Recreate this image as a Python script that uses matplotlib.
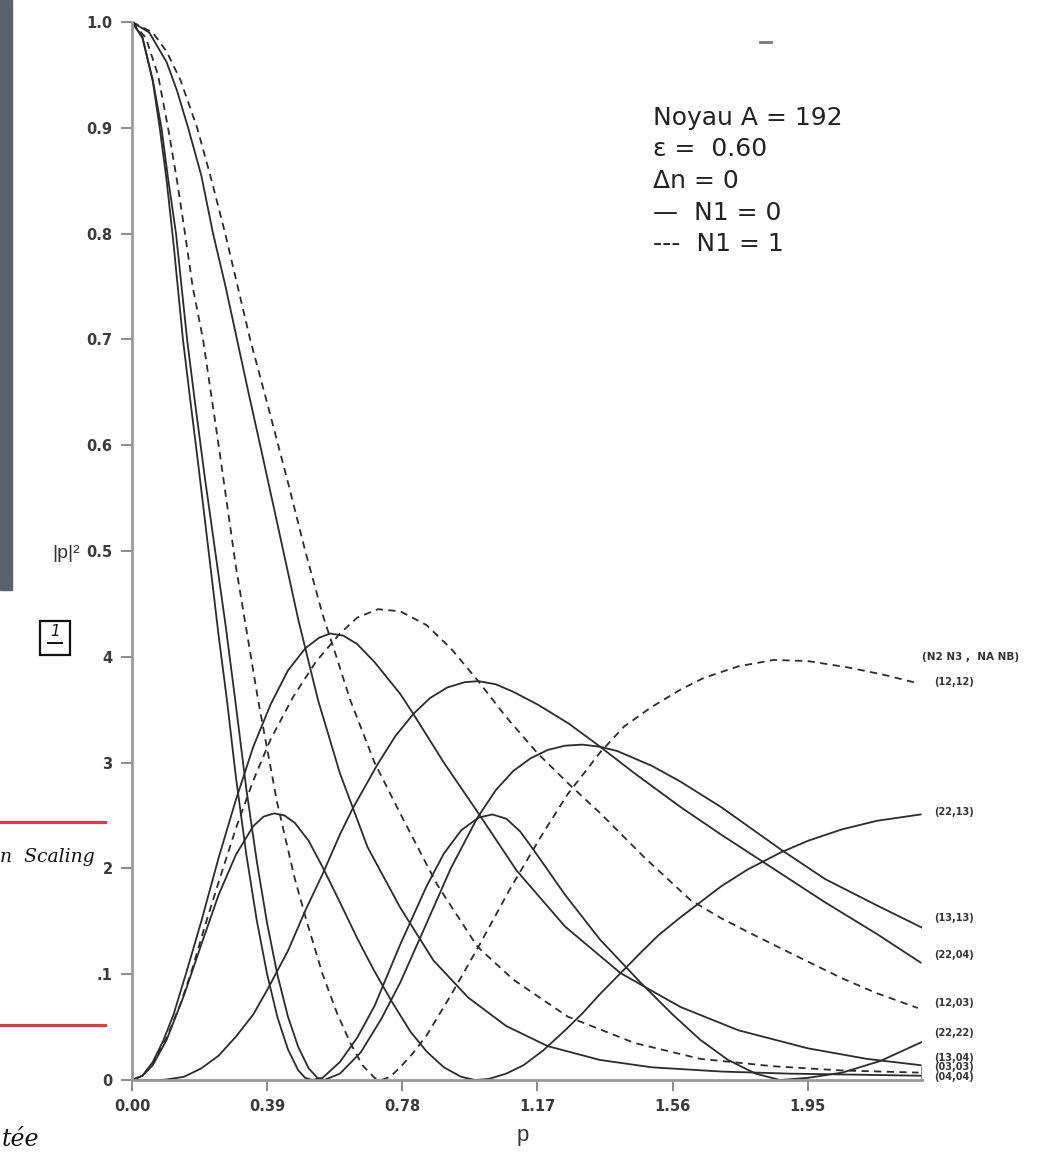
import matplotlib
matplotlib.use("Agg")
import matplotlib.pyplot as plt
from matplotlib.lines import Line2D
from matplotlib.patches import Rectangle

# curves: momentum p and |p|^2
# solid lines (N1 = 0)
p_22_22 = [0, .03, .06, .08, .10, .12, .147, .168, .19, .22, .25, .274, .30, .33, .36, .39, .42, .45, .48,
           .50, .52, .55, .60, .65, .70, .774, .85, .90, .95, 1.0, 1.04, 1.08, 1.12, 1.158, 1.25, 1.35,
           1.468, 1.56, 1.64, 1.72, 1.80, 1.87, 1.95, 2.05, 2.16, 2.28]
v_22_22 = [1, .986, .944, .9, .85, .79, .7, .643, .585, .503, .42, .359, .286, .213, .151, .10, .059, .029,
           .009, .002, 0, .002, .017, .04, .07, .128, .183, .214, .236, .248, .251, .247, .235, .218, .175, .133,
           .092, .062, .038, .019, .006, 0, .002, .007, .018, .036]

p_13_13 = [0, .03, .06, .085, .105, .127, .159, .18, .21, .24, .27, .298, .33, .36, .39, .42, .45, .48, .51,
           .535, .555, .60, .66, .72, .774, .85, .92, .997, 1.05, 1.10, 1.15, 1.20, 1.25, 1.30, 1.35, 1.40,
           1.50, 1.583, 1.70, 1.872, 2.0, 2.15, 2.28]
v_13_13 = [1, .985, .945, .9, .85, .8, .7, .645, .57, .5, .43, .359, .275, .207, .148, .099, .06, .031, .011,
           .002, 0, .006, .026, .058, .092, .148, .2, .248, .274, .292, .304, .312, .316, .317, .315, .311,
           .297, .282, .258, .218, .19, .165, .144]

p_04_04 = [0, .05, .10, .13, .162, .20, .234, .27, .303, .336, .38, .43, .48, .537, .60, .68, .774, .87,
           .97, 1.08, 1.2, 1.35, 1.5, 1.7, 1.9, 2.1, 2.28]
v_04_04 = [1, .99, .962, .935, .9, .855, .8, .75, .7, .65, .585, .51, .435, .359, .29, .22, .163, .113,
           .078, .051, .032, .019, .012, .008, .006, .005, .004]

p_13_04 = [0, .03, .06, .09, .12, .159, .20, .25, .30, .35, .40, .45, .50, .54, .572, .61, .65, .70, .774,
           .81, .90, 1.0, 1.11, 1.25, 1.41, 1.583, 1.75, 1.95, 2.12, 2.276]
v_13_04 = [0, .004, .017, .037, .062, .104, .15, .21, .265, .315, .355, .387, .408, .418, .422, .42, .412,
           .395, .365, .347, .30, .252, .198, .145, .101, .069, .047, .03, .02, .014]

p_22_13 = [0, .03, .06, .10, .15, .20, .25, .30, .35, .38, .41, .44, .47, .51, .552, .60, .65, .696, .75,
           .803, .85, .90, .95, .99, 1.03, 1.08, 1.13, 1.187, 1.25, 1.30, 1.35, 1.41, 1.47, 1.52, 1.58,
           1.64, 1.70, 1.777, 1.872, 1.95, 2.05, 2.15, 2.276]
v_22_13 = [0, .004, .014, .038, .08, .128, .175, .213, .24, .249, .252, .25, .243, .226, .2, .168, .134,
           .105, .074, .046, .027, .012, .003, 0, .001, .006, .014, .028, .047, .063, .081, .101, .121,
           .137, .153, .168, .183, .199, .215, .226, .237, .245, .251]

p_22_04 = [0, .08, .10, .15, .20, .25, .30, .35, .39, .45, .50, .552, .60, .636, .708, .76, .812, .86,
           .91, .96, 1.0, 1.05, 1.10, 1.17, 1.26, 1.343, 1.45, 1.583, 1.70, 1.85, 2.0, 2.15, 2.276]
v_22_04 = [0, 0, .0005, .003, .011, .023, .041, .062, .085, .122, .16, .196, .232, .256, .298, .325, .346,
           .361, .371, .376, .377, .374, .367, .355, .337, .317, .29, .258, .232, .2, .168, .138, .111]

# dashed lines (N1 = 1)
p_12_12 = [0, .04, .075, .104, .13, .153, .175, .205, .25, .30, .364, .419, .47, .506, .55, .592, .63,
           .665, .70, .72, .745, .774, .81, .85, .92, 1.0, 1.09, 1.18, 1.257, 1.352, 1.42, 1.497, 1.583,
           1.65, 1.75, 1.852, 1.95, 2.066, 2.17, 2.268]
v_12_12 = [1, .985, .95, .9, .85, .8, .75, .7, .6, .485, .359, .262, .19, .148, .1, .063, .035,
           .014, .002, 0, .003, .012, .025, .042, .08, .126, .18, .23, .27, .31, .334, .352, .369,
           .38, .391, .397, .396, .39, .383, .375]

p_03_03 = [0, .06, .10, .14, .188, .23, .269, .305, .341, .39, .45, .50, .55, .59, .63, .70, .774, .88,
           .997, 1.1, 1.257, 1.45, 1.64, 1.85, 2.05, 2.27]
v_03_03 = [1, .99, .972, .945, .9, .85, .8, .75, .7, .64, .565, .5, .44, .4, .359, .30, .252, .185,
           .126, .095, .06, .035, .02, .013, .009, .007]

p_12_03 = [0, .03, .06, .10, .14, .173, .21, .25, .30, .35, .40, .465, .53, .60, .65, .71, .774, .85,
           .92, .997, 1.08, 1.17, 1.26, 1.352, 1.48, 1.612, 1.70, 1.777, 1.9, 2.05, 2.15, 2.268]
v_12_03 = [0, .004, .015, .04, .072, .104, .145, .187, .238, .283, .322, .362, .395, .422, .437, .445,
           .443, .43, .408, .378, .343, .309, .28, .252, .21, .17, .153, .14, .12, .096, .082, .068]

solid = [(p_22_22, v_22_22), (p_13_13, v_13_13), (p_04_04, v_04_04),
         (p_13_04, v_13_04), (p_22_13, v_22_13), (p_22_04, v_22_04)]
dashed = [(p_12_12, v_12_12), (p_03_03, v_03_03), (p_12_03, v_12_03)]

end_labels = ["(12,12)", "(22,13)", "(13,13)", "(22,04)", "(12,03)",
              "(22,22)", "(13,04)", "(03,03)", "(04,04)"]
end_label_y = [.376, .253, .153, .118, .073, .044, .021, .012, .003]

xticks = [0.0, 0.39, 0.78, 1.17, 1.56, 1.95]
xtick_labels = ["0.00", "0.39", "0.78", "1.17", "1.56", "1.95"]
yticks = [0, .1, .2, .3, .4, .5, .6, .7, .8, .9, 1.0]
ytick_labels = ["0", ".1", "2", "3", "4", "0.5", "0.6", "0.7", "0.8", "0.9", "1.0"]

W, H = 1039, 1152
fig = plt.figure(figsize=(W / 100, H / 100), dpi=100)
ax = fig.add_axes([132 / W, 72 / H, 790 / W, 1058 / H])

ink = "#2b2b2b"
for p, v in solid:
    ax.plot(p, v, color=ink, lw=1.3)
for p, v in dashed:
    ax.plot(p, v, color=ink, lw=1.3, dashes=(4, 3))

ax.set_xlim(0, 2.28)
ax.set_ylim(0, 1.0)
for s in ["top", "right"]:
    ax.spines[s].set_visible(False)
for s in ["left", "bottom"]:
    ax.spines[s].set_color("#9a9a9a")
    ax.spines[s].set_linewidth(2)
ax.axvline(2.28, ymin=0, ymax=0.012, color="#777", lw=1.2)

ax.set_xticks(xticks)
ax.set_xticklabels(xtick_labels)
ax.set_yticks(yticks)
ax.set_yticklabels(ytick_labels)
ax.tick_params(direction="out", length=8, width=1.4, color="#8a8a8a", pad=6)
for lab in ax.get_xticklabels() + ax.get_yticklabels():
    lab.set_fontfamily("DejaVu Sans")
    lab.set_fontweight("bold")
    lab.set_fontsize(10.5)
    lab.set_color("#3a3a3a")

# curve labels at the right end
for txt, y in zip(end_labels, end_label_y):
    ax.text(2.315, y, txt, fontsize=7, fontweight="bold", color="#333",
            va="center", ha="left", clip_on=False)
ax.text(2.28, 0.40, "(N2 N3 ,  NA NB)", fontsize=7.5, fontweight="bold", color="#333",
        va="center", ha="left", clip_on=False)

# axis names
fig.text(523 / W, 1 - 1135 / H, "p", fontsize=16, color="#333", ha="center", va="center",
         family="Liberation Sans")
fig.text(66 / W, 1 - 553 / H, "|p|²", fontsize=14, color="#333", ha="center", va="center",
         family="Liberation Sans")

# legend block
legend_lines = ["Noyau A = 192", "ε =  0.60", "Δn = 0", "—  N1 = 0", "---  N1 = 1"]
for i, t in enumerate(legend_lines):
    fig.text(653 / W, 1 - (118 + 31.5 * i) / H, t, fontsize=18, color="#222",
             family="DejaVu Sans", va="center", ha="left")

# scan artefacts and handwritten notes
fig.patches.append(Rectangle((0, 1 - 590 / H), 12 / W, 590 / H, transform=fig.transFigure,
                             color="#5a6270", zorder=0))
fig.lines.append(Line2D([760 / W, 771 / W], [1 - 42 / H, 1 - 42 / H], transform=fig.transFigure,
                        color="#777", lw=2))
for yy in [822, 1025]:
    fig.lines.append(Line2D([0, 105 / W], [1 - yy / H, 1 - yy / H], transform=fig.transFigure,
                            color="#e8383d", lw=2.2))
fig.patches.append(Rectangle((40 / W, 1 - 655 / H), 30 / W, 34 / H, transform=fig.transFigure,
                             fill=False, ec="#111", lw=1.6))
fig.text(55 / W, 1 - 632 / H, "1", fontsize=11, color="#111", ha="center", va="center",
         style="italic")
fig.lines.append(Line2D([48 / W, 62 / W], [1 - 643 / H, 1 - 643 / H], transform=fig.transFigure,
                        color="#111", lw=1.4))
fig.text(0, 1 - 857 / H, "n  Scaling", fontsize=13.5, color="#111", ha="left", va="center",
         family="DejaVu Serif", style="italic")
fig.text(2 / W, 1 - 1140 / H, "tée", fontsize=17, color="#111", ha="left", va="center",
         family="DejaVu Serif", style="italic")

fig.savefig("out.png", dpi=100, facecolor="white")
